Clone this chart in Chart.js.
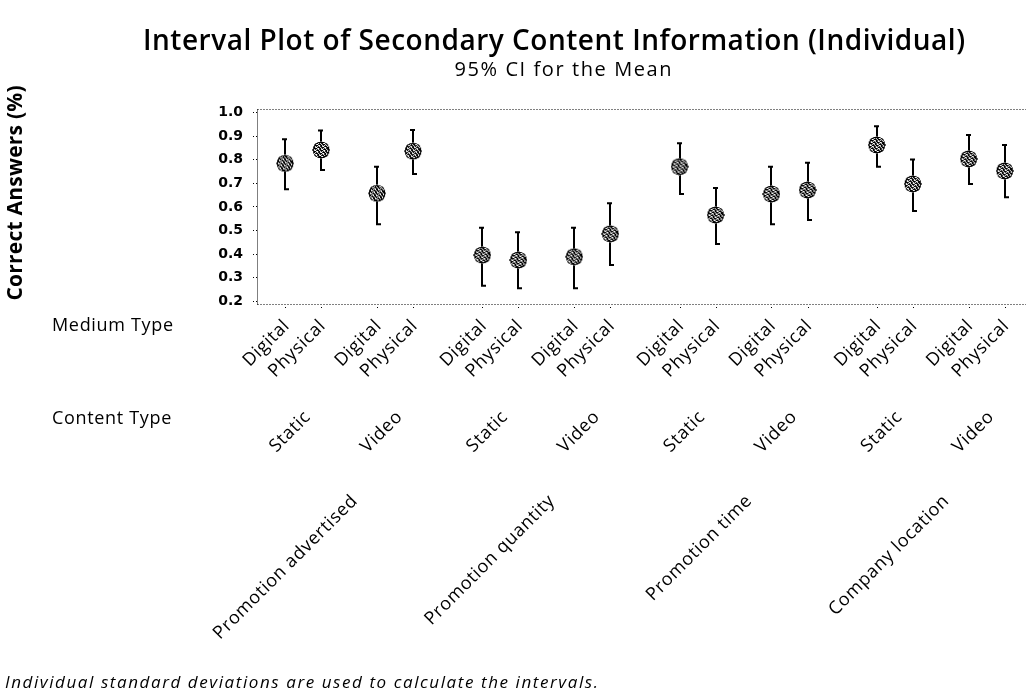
<!DOCTYPE html>
<html>
<head>
<meta charset="utf-8">
<script src="https://cdn.jsdelivr.net/npm/chart.js@4.4.1/dist/chart.umd.min.js"></script>
<style>
  html, body { margin: 0; padding: 0; background: #ffffff; }
  #wrap { width: 1026px; height: 700px; position: relative; }
</style>
</head>
<body>
<div id="wrap"><canvas id="c" width="1026" height="700"></canvas></div>
<script>
// ---------- data ----------
const groups = ['Promotion advertised', 'Promotion quantity', 'Promotion time', 'Company location'];
const contentTypes = ['Static', 'Video'];
const mediumTypes = ['Digital', 'Physical'];
// order: group > content > medium
const means = [0.785, 0.842, 0.658, 0.837, 0.396, 0.375, 0.389, 0.486, 0.771, 0.566, 0.655, 0.672, 0.863, 0.698, 0.804, 0.753];
const upperCI = [0.887, 0.924, 0.771, 0.927, 0.512, 0.493, 0.512, 0.616, 0.870, 0.681, 0.771, 0.788, 0.943, 0.802, 0.905, 0.863];
const lowerCI = [0.675, 0.757, 0.527, 0.740, 0.266, 0.255, 0.255, 0.354, 0.655, 0.443, 0.527, 0.545, 0.771, 0.583, 0.698, 0.641];
const yTicks = [0.2, 0.3, 0.4, 0.5, 0.6, 0.7, 0.8, 0.9, 1.0];
const titleText = 'Interval Plot of Secondary Content Information (Individual)';
const subtitleText = '95% CI for the Mean';
const yTitle = 'Correct Answers (%)';
const footText = 'Individual standard deviations are used to calculate the intervals.';

// ---------- layout (category positions on a linear axis, with gaps) ----------
const PAIR_STEP = 1, CONTENT_GAP = 1.55, GROUP_GAP = 1.92;
const xPos = [];
const medLabels = [];
(function () {
  let x = 0;
  for (let g = 0; g < groups.length; g++) {
    for (let c = 0; c < contentTypes.length; c++) {
      for (let m = 0; m < mediumTypes.length; m++) {
        xPos.push(x);
        medLabels.push(mediumTypes[m]);
        x += (m === 0) ? PAIR_STEP : (c === 0 ? CONTENT_GAP : GROUP_GAP);
      }
    }
  }
})();

const points = means.map((v, i) => ({ x: xPos[i], y: v }));

// ---------- marker (hatched ball) ----------
function makeMarker() {
  const s = 18;
  const cv = document.createElement('canvas');
  cv.width = s; cv.height = s;
  const cx = cv.getContext('2d');
  const img = cx.createImageData(s, s);
  const c0 = (s - 1) / 2;
  for (let j = 0; j < s; j++) {
    for (let i = 0; i < s; i++) {
      const r = Math.hypot(i - c0, j - c0);
      const k = (j * s + i) * 4;
      if (r <= 8.6) {
        let v = 0;
        if (r < 7.4 && ((i - j + 30) % 4 === 0) && (i + j) % 2 === 0) v = 255;
        if (r < 7.4 && ((i + 2 * j) % 5 === 0)) v = 255;
        if (r > 8.0) v = 90;
        img.data[k] = v; img.data[k + 1] = v; img.data[k + 2] = v; img.data[k + 3] = 255;
      }
    }
  }
  cx.putImageData(img, 0, 0);
  return cv;
}
const marker = makeMarker();

// fit a string to a target width by letter spacing (layout only)
function fitSpacing(ctx, text, font, target) {
  ctx.font = font;
  ctx.letterSpacing = '0px';
  const w = ctx.measureText(text).width;
  return (target - w) / Math.max(1, text.length - 1);
}

// ---------- plugins ----------
const errorBars = {
  id: 'errorBars',
  beforeDatasetsDraw(chart) {
    const { ctx, scales: { x, y } } = chart;
    ctx.save();
    ctx.strokeStyle = '#000';
    ctx.lineWidth = 2;
    for (let i = 0; i < means.length; i++) {
      const px = Math.round(x.getPixelForValue(xPos[i]));
      const yt = y.getPixelForValue(upperCI[i]);
      const yb = y.getPixelForValue(lowerCI[i]);
      ctx.beginPath();
      ctx.moveTo(px, yt);
      ctx.lineTo(px, yb);
      ctx.stroke();
      ctx.beginPath();
      ctx.moveTo(px - 3, yt); ctx.lineTo(px + 2, yt);
      ctx.moveTo(px - 1, yb); ctx.lineTo(px + 4, yb);
      ctx.stroke();
    }
    ctx.restore();
  }
};

const decor = {
  id: 'decor',
  afterDraw(chart) {
    const { ctx, chartArea: a, scales: { x, y } } = chart;
    ctx.save();
    // dotted frame
    ctx.strokeStyle = '#000';
    ctx.lineWidth = 1;
    ctx.setLineDash([1, 2]);
    ctx.beginPath();
    ctx.moveTo(a.left + 0.5, a.bottom + 0.5); ctx.lineTo(a.right, a.bottom + 0.5);
    ctx.moveTo(a.left + 0.5, a.top + 0.5); ctx.lineTo(a.right, a.top + 0.5);
    ctx.stroke();
    ctx.setLineDash([1, 1]);
    ctx.beginPath();
    ctx.moveTo(a.left + 0.5, a.top + 0.5); ctx.lineTo(a.left + 0.5, a.bottom + 0.5);
    ctx.stroke();
    ctx.setLineDash([]);
    // x tick dots
    ctx.fillStyle = '#000';
    for (let i = 0; i < xPos.length; i++) {
      const px = Math.round(x.getPixelForValue(xPos[i]));
      ctx.fillRect(px, a.bottom + 3, 1, 1);
    }

    // titles
    ctx.textAlign = 'center';
    ctx.textBaseline = 'middle';
    let ls = fitSpacing(ctx, titleText, '600 28px "Open Sans"', 822);
    ctx.letterSpacing = ls + 'px';
    ctx.fillText(titleText, 554 + ls / 2, 42);
    ls = fitSpacing(ctx, subtitleText, '20px "Open Sans"', 217);
    ctx.letterSpacing = ls + 'px';
    ctx.fillText(subtitleText, 563 + ls / 2, 70);

    // y axis title
    ctx.save();
    ctx.translate(16, 193);
    ctx.rotate(-Math.PI / 2);
    ls = fitSpacing(ctx, yTitle, 'bold 21px "Open Sans"', 215);
    ctx.letterSpacing = ls + 'px';
    ctx.fillText(yTitle, ls / 2, 0);
    ctx.restore();

    // row headers
    const labFont = '18px "Open Sans"';
    const labLs = fitSpacing(ctx, 'Medium Type', labFont, 121);
    ctx.font = labFont;
    ctx.letterSpacing = labLs + 'px';
    ctx.textAlign = 'left';
    ctx.fillText('Medium Type', 52, 326);
    ctx.fillText('Content Type', 52, 419);

    // medium labels
    const rot = -Math.PI / 4;
    ctx.textAlign = 'right';
    for (let i = 0; i < xPos.length; i++) {
      const px = x.getPixelForValue(xPos[i]);
      ctx.save();
      ctx.translate(px + 1 + labLs, 323);
      ctx.rotate(rot);
      ctx.fillText(medLabels[i], 0, 0);
      ctx.restore();
    }
    // content labels
    let idx = 0;
    for (let g = 0; g < groups.length; g++) {
      const gStart = idx;
      for (let c = 0; c < contentTypes.length; c++) {
        const mid = (x.getPixelForValue(xPos[idx]) + x.getPixelForValue(xPos[idx + mediumTypes.length - 1])) / 2;
        ctx.save();
        ctx.translate(mid + 4 + labLs, 414);
        ctx.rotate(rot);
        ctx.fillText(contentTypes[c], 0, 0);
        ctx.restore();
        idx += mediumTypes.length;
      }
      const gMid = (x.getPixelForValue(xPos[gStart]) + x.getPixelForValue(xPos[idx - 1])) / 2;
      ctx.save();
      ctx.translate(gMid + 5 + labLs, 498);
      ctx.rotate(rot);
      ctx.fillText(groups[g], 0, 0);
      ctx.restore();
    }

    // footnote
    ctx.textAlign = 'left';
    ls = fitSpacing(ctx, footText, 'italic 17px "Open Sans"', 593);
    ctx.letterSpacing = ls + 'px';
    ctx.fillText(footText, 5, 683);
    ctx.restore();
  }
};

// ---------- chart ----------
new Chart(document.getElementById('c'), {
  type: 'scatter',
  data: {
    datasets: [{
      data: points,
      pointStyle: marker,
      pointRadius: 9,
      pointHoverRadius: 9
    }]
  },
  options: {
    responsive: false,
    animation: false,
    events: [],
    layout: { autoPadding: false, padding: { left: 197, top: 109, right: 0, bottom: 396 } },
    plugins: { legend: { display: false }, tooltip: { enabled: false }, title: { display: false } },
    scales: {
      x: {
        type: 'linear',
        min: -0.78,
        max: 20.55,
        display: false
      },
      y: {
        min: 0.1885,
        max: 1.0157,
        afterBuildTicks(scale) { scale.ticks = yTicks.map(v => ({ value: v })); },
        afterFit(scale) { scale.width = 60; },
        border: { display: false },
        grid: { display: true, drawOnChartArea: false, drawTicks: true, tickLength: 4, color: '#000', tickBorderDash: [1, 2] },
        ticks: {
          padding: 10,
          color: '#000',
          font: { family: 'DejaVu Sans', size: 14, weight: 'bold' },
          callback: (v) => Number(v).toFixed(1)
        }
      }
    }
  },
  plugins: [errorBars, decor]
});
</script>
</body>
</html>
